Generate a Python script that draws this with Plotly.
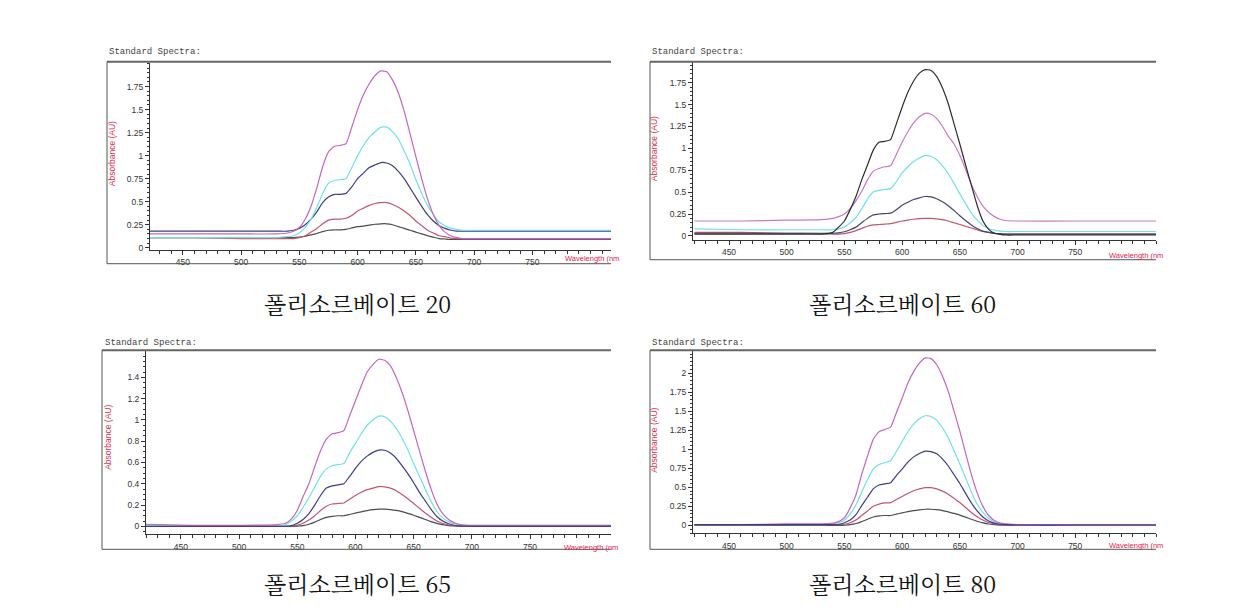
import plotly.graph_objects as go

W, H = 1245, 615

# ---------------- data ----------------
wavelength = [420, 460, 500, 530,
              540, 545, 550, 555, 560, 565, 570, 575, 580, 585,
              590, 595, 600, 605, 610, 615, 620, 625, 630, 635,
              640, 645, 650, 655, 660, 665, 670, 675, 680, 685, 690,
              700, 750, 820]

captions = ["폴리소르베이트 20", "폴리소르베이트 60", "폴리소르베이트 65", "폴리소르베이트 80"]

x_tick_vals = [450, 500, 550, 600, 650, 700, 750]
x_tick_text = ["450", "500", "550", "600", "650", "700", "750"]

y_ticks_p20 = [0, 0.25, 0.5, 0.75, 1, 1.25, 1.5, 1.75]
y_text_p20 = ["0", "0.25", "0.5", "0.75", "1", "1.25", "1.5", "1.75"]
y_ticks_p60 = [0, 0.25, 0.5, 0.75, 1, 1.25, 1.5, 1.75]
y_text_p60 = ["0", "0.25", "0.5", "0.75", "1", "1.25", "1.5", "1.75"]
y_ticks_p65 = [0, 0.2, 0.4, 0.6, 0.8, 1, 1.2, 1.4]
y_text_p65 = ["0", "0.2", "0.4", "0.6", "0.8", "1", "1.2", "1.4"]
y_ticks_p80 = [0, 0.25, 0.5, 0.75, 1, 1.25, 1.5, 1.75, 2]
y_text_p80 = ["0", "0.25", "0.5", "0.75", "1", "1.25", "1.5", "1.75", "2"]

# Polysorbate 20
p20_magenta = [.15, .15, .15, .15,
               .16, .18, .22, .31, .45, .65, .88, 1.04, 1.10, 1.11,
               1.13, 1.31, 1.50, 1.66, 1.78, 1.87, 1.92, 1.91, 1.82, 1.68,
               1.48, 1.24, .99, .75, .53, .36, .24, .17, .13, .11, .10,
               .10, .10, .10]
p20_cyan = [.11, .11, .11, .11,
            .12, .13, .16, .22, .31, .44, .59, .70, .73, .74,
            .75, .87, 1.00, 1.11, 1.20, 1.26, 1.31, 1.31, 1.26, 1.18,
            1.05, .91, .74, .59, .46, .36, .28, .24, .21, .20, .19,
            .19, .19, .19]
p20_navy = [.18, .18, .18, .18,
            .18, .19, .21, .25, .31, .39, .49, .55, .58, .58,
            .59, .66, .75, .81, .87, .90, .925, .92, .89, .83,
            .75, .65, .55, .45, .36, .29, .24, .21, .19, .18, .18,
            .18, .18, .18]
p20_red = [.11, .11, .10, .10,
           .10, .10, .11, .13, .17, .21, .26, .30, .31, .31,
           .32, .35, .40, .43, .46, .48, .49, .49, .47, .44,
           .40, .35, .29, .24, .19, .16, .13, .12, .105, .10, .10,
           .10, .10, .10]
p20_gray = [.11, .11, .11, .11,
            .11, .11, .115, .125, .14, .155, .175, .19, .195, .195,
            .20, .215, .23, .235, .245, .255, .26, .26, .25, .23,
            .21, .19, .17, .15, .13, .115, .10, .095, .09, .09, .09,
            .09, .09, .09]

# Polysorbate 60
p60_black = [.02, .02, .02, .02,
             .04, .10, .17, .30, .45, .64, .81, .98, 1.07, 1.08,
             1.10, 1.28, 1.47, 1.64, 1.77, 1.86, 1.90, 1.89, 1.82, 1.69,
             1.51, 1.28, 1.05, .81, .58, .35, .17, .075, .03, .017, .01,
             .01, .01, .01]
p60_magenta = [.17, .17, .18, .185,
               .20, .22, .25, .31, .40, .51, .64, .74, .77, .79,
               .80, .93, 1.07, 1.19, 1.29, 1.36, 1.40, 1.39, 1.34, 1.25,
               1.14, 1.05, .92, .76, .59, .45, .34, .27, .22, .19, .176,
               .17, .17, .17]
p60_cyan = [.08, .07, .07, .07,
            .07, .08, .10, .15, .21, .31, .42, .50, .52, .53,
            .54, .62, .72, .79, .85, .89, .92, .91, .87, .80,
            .71, .60, .48, .37, .26, .18, .12, .085, .065, .055, .05,
            .05, .05, .05]
p60_navy = [.03, .03, .03, .03,
            .03, .035, .047, .07, .10, .15, .20, .24, .25, .255,
            .26, .30, .35, .385, .415, .435, .45, .445, .425, .39,
            .345, .29, .23, .175, .125, .085, .055, .04, .028, .022, .02,
            .02, .02, .02]
p60_red = [.04, .04, .03, .025,
           .02, .02, .025, .04, .06, .085, .11, .125, .13, .135,
           .14, .155, .17, .18, .19, .197, .20, .20, .195, .185,
           .17, .15, .13, .11, .09, .07, .05, .04, .03, .025, .02,
           .02, .02, .02]

# Polysorbate 65
p65_magenta = [.02, .01, .01, .015,
               .03, .07, .15, .28, .40, .56, .71, .82, .87, .88,
               .90, 1.04, 1.18, 1.32, 1.45, 1.52, 1.57, 1.56, 1.51, 1.40,
               1.26, 1.09, .90, .71, .52, .35, .21, .12, .065, .033, .018,
               .01, .01, .01]
p65_cyan = [.01, 0, 0, 0,
            .015, .05, .10, .18, .27, .37, .47, .54, .57, .58,
            .59, .69, .78, .87, .95, 1.00, 1.035, 1.03, .99, .92,
            .83, .72, .59, .47, .35, .235, .14, .08, .045, .025, .015,
            .01, .01, .01]
p65_navy = [0, 0, 0, 0,
            0, .007, .03, .065, .12, .20, .29, .36, .38, .39,
            .40, .47, .545, .61, .66, .695, .717, .715, .69, .64,
            .57, .495, .41, .32, .24, .16, .093, .05, .025, .011, .004,
            0, 0, 0]
p65_red = [0, 0, 0, 0,
           0, .003, .012, .03, .06, .10, .15, .19, .21, .215,
           .22, .255, .29, .32, .345, .36, .374, .372, .36, .335,
           .30, .26, .215, .17, .125, .085, .05, .027, .013, .006, .002,
           0, 0, 0]
p65_gray = [0, 0, 0, 0,
            0, 0, .002, .008, .02, .04, .065, .085, .095, .10,
            .10, .112, .125, .137, .148, .157, .162, .162, .158, .15,
            .138, .122, .105, .085, .065, .045, .028, .016, .008, .004, .001,
            0, 0, 0]

# Polysorbate 80
p80_magenta = [.01, .01, .02, .02,
               .03, .05, .10, .23, .40, .67, .91, 1.13, 1.23, 1.26,
               1.29, 1.48, 1.67, 1.87, 2.02, 2.13, 2.20, 2.19, 2.11, 1.96,
               1.76, 1.50, 1.24, .95, .67, .43, .25, .13, .065, .03, .019,
               .01, .01, .01]
p80_cyan = [.01, .01, .01, .01,
            .02, .035, .067, .15, .27, .44, .60, .74, .80, .825,
            .85, .97, 1.10, 1.23, 1.33, 1.40, 1.44, 1.43, 1.38, 1.28,
            1.15, .98, .81, .625, .44, .28, .17, .09, .046, .024, .016,
            .01, .01, .01]
p80_navy = [.01, .01, .01, .01,
            .01, .015, .035, .07, .14, .26, .37, .48, .53, .545,
            .56, .655, .74, .83, .90, .945, .975, .97, .94, .87,
            .78, .665, .55, .42, .295, .19, .11, .058, .03, .015, .009,
            .005, .005, .005]
p80_red = [.01, .01, .01, .01,
           .01, .01, .015, .035, .07, .13, .19, .25, .28, .295,
           .30, .34, .38, .42, .455, .48, .495, .495, .48, .45,
           .41, .355, .30, .235, .17, .115, .07, .038, .02, .01, .005,
           0, 0, 0]
p80_gray = [0, 0, 0, 0,
            0, 0, .003, .01, .025, .05, .08, .11, .125, .13,
            .13, .148, .165, .18, .195, .205, .212, .212, .207, .195,
            .178, .157, .135, .108, .08, .055, .033, .018, .009, .004, .002,
            0, 0, 0]

# ---------------- styles ----------------
C_MAG = "#c464c4"
C_CYAN = "#6fe3e6"
C_NAVY = "#3d3d8a"
C_RED = "#c2566e"
C_GRAY = "#4c4c4c"
C_BLACK = "#2c2c2c"

panel_series = [
    [(p20_gray, C_GRAY), (p20_red, C_RED), (p20_navy, C_NAVY), (p20_cyan, C_CYAN), (p20_magenta, C_MAG)],
    [(p60_red, C_RED), (p60_navy, "#45456e"), (p60_cyan, C_CYAN), (p60_magenta, "#c878c8"), (p60_black, C_BLACK)],
    [(p65_gray, C_GRAY), (p65_red, C_RED), (p65_cyan, C_CYAN), (p65_magenta, C_MAG), (p65_navy, C_NAVY)],
    [(p80_gray, C_GRAY), (p80_red, C_RED), (p80_cyan, C_CYAN), (p80_magenta, C_MAG), (p80_navy, C_NAVY)],
]
panel_yticks = [(y_ticks_p20, y_text_p20), (y_ticks_p60, y_text_p60),
                (y_ticks_p65, y_text_p65), (y_ticks_p80, y_text_p80)]

# pixel layout of each panel
panels = [
    dict(plot=(150, 611, 63, 251), box=(107, 611, 62, 265), xr=(421.8, 817.5), yr=(-0.022, 2.009),
         title=(107, 52), ytitle=(112, 155), xlab=(563, 260), cap=(357, 305), ymin=0.05),
    dict(plot=(693, 1156, 62, 241), box=(650, 1156, 62, 261), xr=(418.8, 820), yr=(-0.045, 1.99),
         title=(650, 52), ytitle=(654, 150), xlab=(1107, 257), cap=(902, 305), ymin=0.05),
    dict(plot=(146, 611, 352, 537), box=(102, 611, 352, 552), xr=(420, 819.6), yr=(-0.075, 1.654),
         title=(103, 345), ytitle=(108, 440), xlab=(562, 550), cap=(357, 586), ymin=0.05),
    dict(plot=(693, 1156, 352, 536), box=(650, 1156, 352, 552), xr=(418.8, 820), yr=(-0.105, 2.30),
         title=(650, 345), ytitle=(654, 443), xlab=(1107, 548), cap=(902, 586), ymin=0.05),
]


def fx(px):
    return px / W


def fy(py):
    return 1 - py / H


fig = go.Figure()
shapes = []
annotations = []
tick_font = dict(family="Liberation Sans, Arial, sans-serif", size=8.5, color="#333333")

for i, p in enumerate(panels):
    k = "" if i == 0 else str(i + 1)
    for vals, col in panel_series[i]:
        fig.add_trace(go.Scatter(
            x=wavelength, y=vals, mode="lines",
            line=dict(color=col, width=1.2, shape="spline", smoothing=0.5),
            xaxis="x" + k, yaxis="y" + k, showlegend=False, hoverinfo="skip"))

    x0, x1, y0, y1 = p["plot"]
    tv, tt = panel_yticks[i]
    fig.update_layout(**{
        "xaxis" + k: dict(
            domain=[fx(x0), fx(x1)], range=list(p["xr"]), anchor="y" + k,
            showline=True, linecolor="#333333", linewidth=1, mirror=False,
            ticks="outside", ticklen=4, tickcolor="#333333", tickwidth=1,
            tickmode="array", tickvals=x_tick_vals, ticktext=x_tick_text,
            minor=dict(tickmode="linear", tick0=0, dtick=10, ticks="outside", ticklen=3,
                       tickcolor="#333333", showgrid=False),
            showgrid=False, zeroline=False, tickfont=tick_font, fixedrange=True),
        "yaxis" + k: dict(
            domain=[fy(y1), fy(y0)], range=list(p["yr"]), anchor="x" + k,
            showline=True, linecolor="#333333", linewidth=1,
            ticks="outside", ticklen=4, tickcolor="#333333", tickwidth=1,
            tickmode="array", tickvals=tv, ticktext=tt,
            minor=dict(tickmode="linear", tick0=0, dtick=p["ymin"], ticks="outside", ticklen=2,
                       tickcolor="#333333", showgrid=False),
            showgrid=False, zeroline=False, tickfont=tick_font, fixedrange=True),
    })

    bx0, bx1, by0, by1 = p["box"]
    shapes.append(dict(type="line", xref="paper", yref="paper",
                       x0=fx(bx0), x1=fx(bx1), y0=fy(by0), y1=fy(by0),
                       line=dict(color="#666666", width=2)))
    shapes.append(dict(type="line", xref="paper", yref="paper",
                       x0=fx(bx0), x1=fx(bx0), y0=fy(by0), y1=fy(by1),
                       line=dict(color="#555555", width=1)))
    shapes.append(dict(type="line", xref="paper", yref="paper",
                       x0=fx(bx0), x1=fx(bx1), y0=fy(by1), y1=fy(by1),
                       line=dict(color="#555555", width=1)))

    tx, ty = p["title"]
    annotations.append(dict(text="Standard Spectra:", xref="paper", yref="paper",
                            x=fx(tx), y=fy(ty), xanchor="left", yanchor="middle", showarrow=False,
                            font=dict(family="Liberation Mono, Courier New, monospace", size=9,
                                      color="#444444")))
    yx, yy = p["ytitle"]
    annotations.append(dict(text="Absorbance (AU)", xref="paper", yref="paper",
                            x=fx(yx), y=fy(yy), xanchor="center", yanchor="middle", showarrow=False,
                            textangle=-90,
                            font=dict(family="Liberation Sans, Arial, sans-serif", size=8.5,
                                      color="#e0304a")))
    lx, ly = p["xlab"]
    annotations.append(dict(text="Wavelength (nm", xref="paper", yref="paper",
                            x=fx(lx), y=fy(ly), xanchor="left", yanchor="middle", showarrow=False,
                            font=dict(family="Liberation Sans, Arial, sans-serif", size=7.5,
                                      color="#e02050")))
    cx, cy = p["cap"]
    annotations.append(dict(text=captions[i], xref="paper", yref="paper",
                            x=fx(cx), y=fy(cy), xanchor="center", yanchor="middle", showarrow=False,
                            font=dict(family="Noto Serif CJK KR, Noto Sans CJK KR, serif", size=23,
                                      color="#111111")))

fig.update_layout(
    width=W, height=H, margin=dict(l=0, r=0, t=0, b=0),
    paper_bgcolor="white", plot_bgcolor="white",
    shapes=shapes, annotations=annotations, showlegend=False,
)

fig.write_html("out.html", config={"displayModeBar": False})
